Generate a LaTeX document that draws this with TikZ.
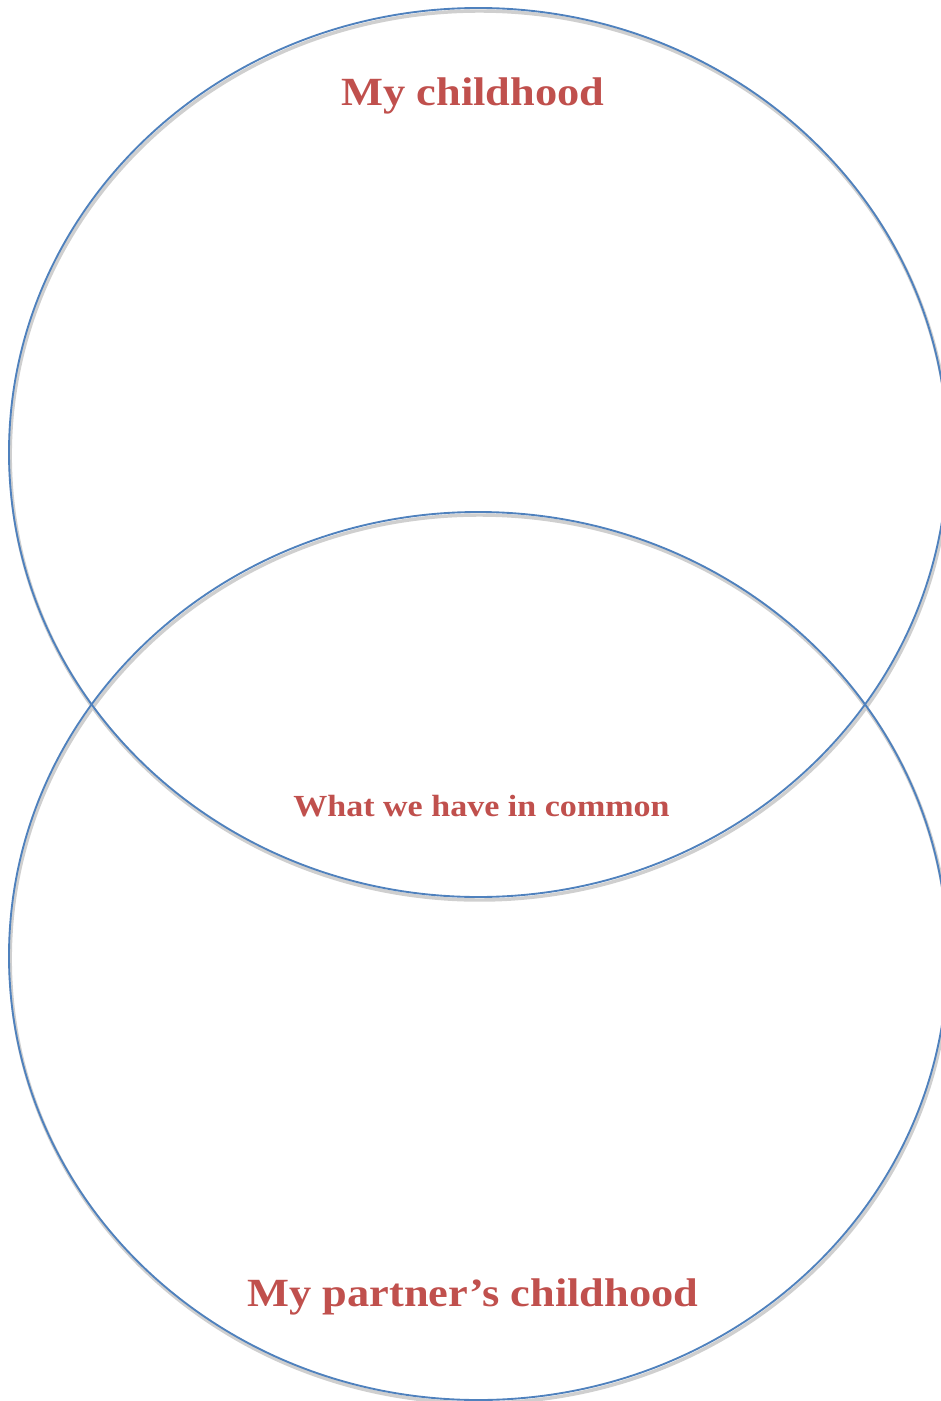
\documentclass[tikz,border=0pt]{standalone}
\usepackage{fontspec}
\setmainfont{Liberation Serif}[FakeStretch=1.11]
\definecolor{ringblue}{HTML}{4F81BD}
\definecolor{labelred}{HTML}{C0504D}
\definecolor{shadowgray}{HTML}{CFCFCF}
\tikzset{
  ring/.style={draw=ringblue, line width=1.4pt},
  ringshadow/.style={draw=shadowgray, line width=2.6pt},
  biglabel/.style={text=labelred, font=\fontsize{30}{34}\selectfont\bfseries, anchor=base},
  smalllabel/.style={text=labelred, font=\fontsize{23}{26}\selectfont\bfseries, anchor=base}
}
\begin{document}
\begin{tikzpicture}[x=0.75pt, y=-0.75pt]
    % Fix the page to the reference size
    \useasboundingbox (0,0) rectangle (941,1401);
    
    % Shadows of the two sets
    \draw[ringshadow] (479.5,455.5) ellipse (469.3 and 444.5);
    \draw[ringshadow] (479.5,959) ellipse (469.3 and 444);
    
    % Draw the two sets
    \draw[ring] (478.3,452.5) ellipse (469.3 and 444.5);
    \draw[ring] (478.3,956) ellipse (469.3 and 444);
    
    % Label the sets
    \node[biglabel] (mine) at (473,105.7) {My childhood};
    \node[smalllabel] (common) at (481.5,816) {What we have in common};
    \node[biglabel] (partner) at (473,1306.7) {My partner’s childhood};
\end{tikzpicture}
\end{document}
